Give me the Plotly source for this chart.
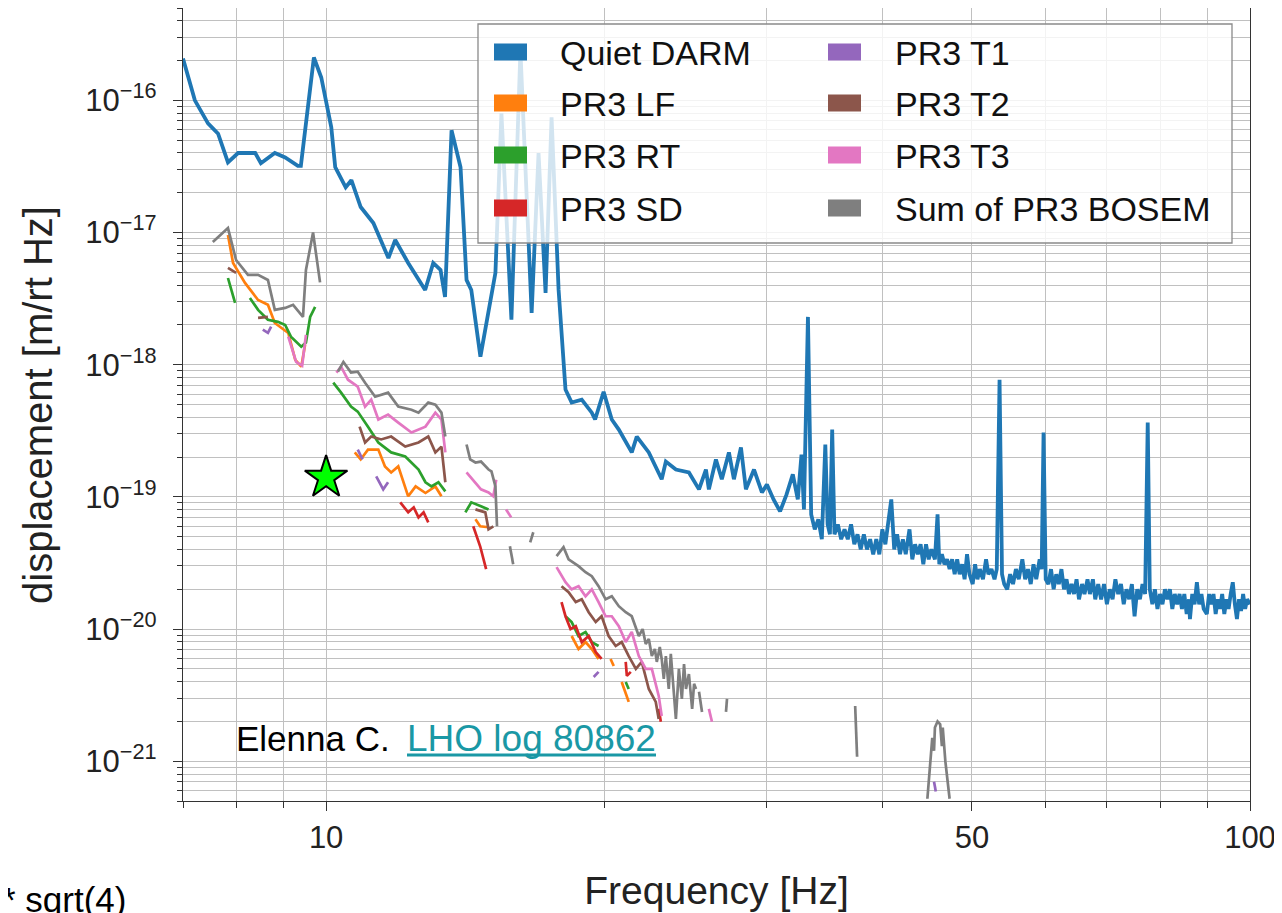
import plotly.graph_objects as go

# ---------------- data ----------------
darm_f = [7.0, 7.21, 7.45, 7.64, 7.83, 8.03, 8.38, 8.50, 8.80, 9.03, 9.32, 9.39, 9.70, 9.88,
          10.13, 10.23, 10.5, 10.65, 10.9, 11.25, 11.68, 11.88, 12.27, 12.80, 13.06, 13.30, 13.45,
          13.67, 13.98, 14.19, 14.36, 14.69, 15.25, 15.48, 15.87, 16.23, 16.69, 16.98, 17.28, 17.54,
          17.85, 18.16, 18.44, 18.91, 19.39, 19.55, 19.97, 20.38, 20.74, 21.42, 21.69, 22.35, 23.08,
          23.32, 23.91, 24.70, 25.33, 25.77, 25.96, 26.42, 26.81, 27.29, 27.63, 28.12, 28.47, 29.05,
          29.63,
          30.0, 30.5, 31.0, 31.5, 32.0, 32.4, 32.7, 32.9, 33.23,
          33.5, 33.8, 34.1, 34.4, 34.7, 34.9, 35.1, 35.3, 35.5, 35.8, 36.1, 36.4, 36.7, 37.0, 37.3,
          37.6, 37.9, 38.2, 38.5, 38.8, 39.1, 39.4, 39.7, 40.0, 40.3, 40.6, 40.9, 41.2, 41.5, 41.8,
          42.1, 42.4, 42.8, 43.1, 43.4, 43.7, 44.0, 44.3, 44.6, 44.9, 45.2, 45.6, 45.9, 46.1, 46.4,
          46.7, 47.0, 47.3, 47.6, 47.9, 48.2, 48.5, 48.8, 49.1, 49.4, 49.7, 50.1, 50.4, 50.7, 51.0,
          51.4, 51.8, 52.1, 52.5, 52.9, 53.2, 53.57, 53.9, 54.2, 54.6, 55.0, 55.4, 55.8, 56.2, 56.7,
          57.1, 57.5, 57.9, 58.3, 58.7, 59.2, 59.5, 59.78, 60.1, 60.5, 60.9, 61.3, 61.7, 62.1, 62.5,
          62.9, 63.3, 63.7, 64.1, 64.5, 64.9, 65.3, 65.8, 66.2, 66.7, 67.1, 67.6, 68.0, 68.5, 69.0,
          69.5, 70.0, 70.5, 71.0, 71.5, 72.0, 72.5, 73.0, 73.5, 74.0, 74.5, 75.0, 75.5, 76.0, 76.5,
          77.0, 77.5, 77.9, 78.4, 78.9, 79.4, 79.9, 80.4, 80.9, 81.4, 81.9, 82.4, 82.9, 83.4, 83.9,
          84.4, 84.9, 85.4, 85.9, 86.1, 86.6, 87.1, 87.6, 88.1, 88.6, 89.1, 89.8, 90.3, 90.8, 91.3,
          91.8, 92.3, 92.8, 93.3, 93.8, 94.3, 94.8, 95.3, 95.8, 96.3, 96.8, 97.3, 97.8, 98.3, 98.8,
          99.3, 100.0]
darm_v = [2.07e-16, 1.0e-16, 6.7e-17, 5.6e-17, 3.4e-17, 4.0e-17, 4.0e-17, 3.35e-17, 4.0e-17, 3.7e-17,
          3.2e-17, 3.2e-17, 2.11e-16, 1.49e-16,
          6.25e-17, 3.12e-17, 2.2e-17, 2.49e-17, 1.56e-17, 1.18e-17, 6.42e-18, 8.78e-18, 5.89e-18,
          3.68e-18, 5.89e-18, 5.21e-18, 3.26e-18,
          5.94e-17, 3.12e-17, 4.38e-18, 3.68e-18, 1.15e-18, 4.95e-18, 7.98e-17, 2.19e-18, 2.38e-16,
          2.47e-18, 4.0e-17, 3.49e-18, 7.44e-17,
          3.68e-18, 6.48e-19, 5.17e-19, 5.44e-19, 4.34e-19, 3.85e-19, 6.25e-19, 3.85e-19, 3.23e-19,
          2.17e-19, 2.86e-19, 2.17e-19, 1.36e-19,
          1.85e-19, 1.61e-19, 1.53e-19, 1.14e-19, 1.61e-19, 1.14e-19, 1.92e-19, 1.36e-19, 2.17e-19,
          1.36e-19, 2.37e-19, 1.14e-19, 1.61e-19,
          1.08e-19,
          1.24e-19, 9.57e-20, 7.77e-20, 1.04e-19, 1.48e-19, 9.57e-20, 2.09e-19, 8.04e-20, 2.30e-18,
          7.37e-20, 5.68e-20, 6.76e-20, 4.78e-20, 2.49e-19, 6.20e-20, 5.21e-20, 3.23e-19, 5.21e-20, 6.20e-20,
          4.78e-20, 5.68e-20, 4.78e-20, 6.20e-20, 4.38e-20,
          5.21e-20, 4.01e-20, 5.21e-20, 4.01e-20, 4.78e-20, 3.68e-20, 4.78e-20, 3.68e-20, 5.68e-20, 4.38e-20,
          6.20e-20, 9.57e-20, 4.01e-20, 5.21e-20, 3.68e-20,
          4.78e-20, 3.68e-20, 5.68e-20, 3.37e-20, 4.38e-20, 3.68e-20, 4.38e-20, 3.09e-20, 4.38e-20, 3.37e-20,
          4.01e-20, 3.37e-20, 7.37e-20, 3.09e-20, 3.68e-20,
          3.09e-20, 3.37e-20, 2.84e-20, 3.37e-20, 2.60e-20, 3.37e-20, 2.60e-20, 3.09e-20, 2.38e-20, 3.68e-20,
          2.60e-20, 2.19e-20, 3.09e-20, 2.38e-20, 2.84e-20,
          2.38e-20, 3.37e-20, 2.60e-20, 2.84e-20, 2.38e-20, 2.84e-20, 7.70e-19, 2.60e-20, 2.19e-20, 2.00e-20,
          2.60e-20, 2.19e-20, 2.84e-20, 2.38e-20, 3.37e-20,
          2.38e-20, 2.84e-20, 2.19e-20, 3.09e-20, 2.38e-20, 3.37e-20, 2.84e-20, 3.07e-19, 2.38e-20, 2.19e-20,
          2.84e-20, 2.00e-20, 2.60e-20, 2.19e-20, 2.84e-20,
          2.00e-20, 2.38e-20, 1.84e-20, 2.19e-20, 1.84e-20, 2.38e-20, 1.68e-20, 2.19e-20, 1.84e-20, 2.38e-20,
          1.84e-20, 2.38e-20, 1.68e-20, 2.19e-20, 1.68e-20,
          2.19e-20, 1.54e-20, 2.00e-20, 1.68e-20, 2.38e-20, 1.84e-20, 2.19e-20, 1.54e-20, 2.00e-20, 1.68e-20,
          2.19e-20, 1.25e-20, 2.00e-20, 1.68e-20, 2.19e-20,
          1.84e-20, 3.65e-19, 2.00e-20, 1.54e-20, 2.00e-20, 1.42e-20, 1.84e-20, 1.54e-20, 2.00e-20, 1.68e-20,
          2.00e-20, 1.42e-20, 1.84e-20, 1.54e-20, 1.84e-20,
          1.42e-20, 1.84e-20, 1.30e-20, 1.68e-20, 1.19e-20, 1.84e-20, 1.54e-20, 2.26e-20, 1.54e-20, 1.84e-20,
          1.42e-20, 1.30e-20, 1.84e-20, 1.54e-20, 1.84e-20,
          1.30e-20, 1.68e-20, 1.42e-20, 1.84e-20, 1.30e-20, 1.68e-20, 1.42e-20, 1.84e-20, 2.26e-20, 1.54e-20,
          1.19e-20, 1.68e-20, 1.37e-20, 1.84e-20, 1.42e-20,
          1.68e-20, 1.54e-20]

lf_f = [7.83, 7.93, 8.17, 8.44, 8.65, 8.80, 9.10, 9.26, 9.40, 9.49, None,
        10.74, 10.90, 11.10, 11.39, 11.58, 11.76, 11.97, 12.27, 12.50, 12.81, 13.13, 13.33, None,
        14.51, 14.68, 14.99, None,
        18.44, 18.76, 19.09, 19.39, 19.72, None, 20.32, 20.48, None, 20.89, 21.26, None, 22.91, 23.03]
lf_v = [9.57e-18, 5.89e-18, 4.16e-18, 3.09e-18, 2.84e-18, 2.07e-18, 1.74e-18, 1.09e-18, 9.66e-19, 1.42e-18, None,
        2.17e-19, 1.92e-19, 2.28e-19, 2.28e-19, 1.70e-19, 1.53e-19, 1.70e-19, 1.01e-19, 1.20e-19, 1.07e-19,
        1.20e-19, 1.01e-19, None,
        6.76e-20, 5.99e-20, 5.89e-20, None,
        8.86e-21, 7.06e-21, 7.97e-21, 7.06e-21, 5.94e-21, None, 5.94e-21, 5.26e-21, None, 3.98e-21, 2.81e-21,
        None, 2.49e-21, 2.20e-21]

rt_f = [7.83, 7.97, None, 8.27, 8.44, 8.65, 8.87, 9.03, 9.16, 9.40, 9.51, 9.61, 9.73, None,
        10.18, 10.38, 10.64, 10.82, 11.10, 11.39, 11.76, 12.18, 12.59, 12.81, 13.0, 13.23, 13.46, None,
        14.15, 14.36, 14.71, 14.99, None,
        18.16, 18.44, 18.76, 19.09, 19.39, 19.72, None, 21.10, 21.26]
rt_v = [4.53e-18, 2.94e-18, None, 3.20e-18, 2.60e-18, 2.19e-18, 2.11e-18, 2.0e-18, 1.63e-18, 1.37e-18,
        1.47e-18, 2.30e-18, 2.74e-18, None,
        7.31e-19, 6.15e-19, 4.82e-19, 4.42e-19, 3.40e-19, 2.58e-19, 2.17e-19, 2.02e-19, 1.61e-19, 1.29e-19,
        1.20e-19, 1.29e-19, 1.10e-19, None,
        7.64e-20, 9.09e-20, 8.48e-20, 8.04e-20, None,
        1.25e-20, 1.13e-20, 8.86e-21, 9.50e-21, 7.97e-21, 7.44e-21, None, 3.98e-21, 3.52e-21]

sd_f = [12.03, 12.27, 12.44, 12.59, 12.75, 12.90, None,
        14.43, 14.68, 14.90, None,
        17.98, 18.16, 18.39, 18.63, 18.91, 19.24, 19.58, 19.87, None,
        21.10, 21.16, 21.37, None, 22.91, 23.03]
sd_v = [9.09e-20, 7.64e-20, 8.33e-20, 7.0e-20, 7.64e-20, 6.42e-20, None,
        5.99e-20, 4.23e-20, 2.84e-20, None,
        1.60e-20, 1.25e-20, 1.0e-20, 1.05e-20, 7.97e-21, 8.86e-21, 6.70e-21, 5.94e-21, None,
        5.64e-21, 4.42e-21, 4.74e-21, None, 2.49e-21, 1.99e-21]

t1_f = [8.54, 8.65, 8.72, None, 10.82, 10.95, None, 11.33, 11.53, 11.67, None, 19.48, 19.72, None, 45.5, 45.7]
t1_v = [1.84e-18, 1.74e-18, 1.94e-18, None, 2.28e-19, 1.92e-19, None, 1.43e-19, 1.14e-19, 1.29e-19, None,
        4.34e-21, 4.74e-21, None, 7.0e-22, 5.89e-22]

t2_f = [7.83, 7.99, None, 8.44, 8.65, None,
        10.87, 11.02, 11.19, 11.47, 11.76, 12.18, 12.59, 12.90, 13.13, 13.33, 13.46, None,
        14.51, 14.87, 14.99, 15.17, None,
        17.98, 18.30, 18.63, 18.91, 19.24, 19.58, 19.87, 20.22, 20.58, 20.89, 21.26, 21.64, 21.96,
        22.35, 22.74, 22.91]
t2_v = [5.40e-18, 4.95e-18, None, 2.26e-18, 2.30e-18, None,
        3.40e-19, 2.58e-19, 2.86e-19, 2.72e-19, 2.86e-19, 2.40e-19, 2.58e-19, 2.86e-19, 2.17e-19, 2.40e-19,
        1.29e-19, None,
        8.04e-20, 7.64e-20, 5.68e-20, 5.99e-20, None,
        2.11e-20, 1.90e-20, 1.60e-20, 1.68e-20, 1.34e-20, 1.13e-20, 1.25e-20, 8.86e-21, 7.44e-21, 7.97e-21,
        6.25e-21, 4.99e-21, 5.64e-21, 3.52e-21, 2.81e-21, 2.09e-21]

t3_f = [9.10, 9.28, 9.42, 9.51, None,
        10.26, 10.38, 10.56, 10.82, 11.02, 11.19, 11.39, 11.67, 11.97, 12.37, 12.81, 13.13, 13.33, 13.46, None,
        14.19, 14.51, 14.71, 14.99, 15.17, 15.28, None,
        15.66, 15.86, None,
        17.76, 18.16, 18.44, 18.76, 19.09, 19.39, 19.72, 20.07, 20.38, 20.74, 21.10, 21.42, 21.80, 22.18,
        22.52, 22.91, 23.08, None, 25.96, 26.16]
t3_v = [1.63e-18, 1.05e-18, 9.83e-19, 1.68e-18, None,
        8.71e-19, 9.66e-19, 7.70e-19, 6.82e-19, 4.82e-19, 5.44e-19, 3.85e-19, 4.19e-19, 3.65e-19, 3.07e-19,
        3.40e-19, 4.34e-19, 3.85e-19, 2.17e-19, None,
        1.53e-19, 1.29e-19, 1.14e-19, 1.08e-19, 1.01e-19, 1.35e-19, None,
        8.04e-20, 7.0e-20, None,
        2.94e-20, 2.26e-20, 2.0e-20, 2.11e-20, 1.77e-20, 2.0e-20, 1.60e-20, 1.25e-20, 1.25e-20, 1.05e-20,
        7.97e-21, 9.50e-21, 6.25e-21, 4.99e-21, 4.99e-21, 3.12e-21, 2.20e-21, None, 2.49e-21, 1.99e-21]

sum_f = [7.54, 7.83, 7.99, 8.23, 8.44, 8.65, 8.80, 9.03, 9.21, 9.44, 9.51, 9.68, 9.85, None,
         10.30, 10.44, 10.64, 10.82, 11.02, 11.30, 11.67, 11.97, 12.37, 12.59, 12.90, 13.13, 13.33, 13.46, None,
         14.19, 14.32, 14.51, 14.71, 14.99, 15.10, 15.25, 15.28, 15.31, None,
         15.81, 15.94, None, 16.63, 16.76, None,
         17.76, 18.07, 18.30, 18.76, 19.09, 19.39, 19.72, 20.07, 20.38, 20.74, 21.10, 21.42, 21.80, 22.01,
         22.18, 22.35, 22.52, 22.69, 22.80, 22.97, 23.08, 23.20, 23.32, 23.49, 23.61, 23.79, 23.91, 24.09,
         24.27, 24.40, 24.52, 24.70, 24.90, 25.02, 25.14, None,
         25.33, 25.52, None, 27.09, 27.16, None, 37.38, 37.56, None,
         44.75, 45.1, 45.3, 45.5, 45.6, 45.9, 46.2, 46.4, 46.5, 46.8, 47.3]
sum_v = [8.47e-18, 1.08e-17, 6.2e-18, 4.78e-18, 4.78e-18, 4.38e-18, 2.60e-18, 2.69e-18, 2.84e-18, 2.30e-18,
         5.21e-18, 1.0e-17, 4.2e-18, None,
         8.86e-19, 1.05e-18, 8.71e-19, 8.86e-19, 7.31e-19, 5.73e-19, 6.15e-19, 4.82e-19, 4.57e-19, 4.34e-19,
         5.17e-19, 4.99e-19, 4.34e-19, 2.86e-19, None,
         2.49e-19, 1.92e-19, 1.82e-19, 1.85e-19, 1.61e-19, 1.56e-19, 1.20e-19, 8.04e-20, 5.99e-20, None,
         4.23e-20, 3.09e-20, None, 4.53e-20, 5.40e-20, None,
         3.56e-20, 4.16e-20, 3.37e-20, 2.99e-20, 2.69e-20, 2.51e-20, 2.11e-20, 1.68e-20, 1.77e-20, 1.49e-20,
         1.34e-20, 1.25e-20, 8.86e-21, 1.0e-20,
         7.70e-21, 8.41e-21, 6.25e-21, 7.06e-21, 5.64e-21, 7.31e-21, 5.94e-21, 4.19e-21, 6.25e-21, 3.52e-21,
         6.48e-21, 2.96e-21, 2.09e-21, 4.99e-21,
         2.96e-21, 5.43e-21, 3.52e-21, 4.57e-21, 2.49e-21, 3.85e-21, 3.52e-21, None,
         3.35e-21, 2.36e-21, None, 2.36e-21, 2.96e-21, None, 2.62e-21, 1.08e-21, None,
         5.2e-22, 1.0e-21, 1.5e-21, 1.2e-21, 1.8e-21, 2.0e-21, 1.9e-21, 1.3e-21, 1.8e-21, 1.0e-21, 5.2e-22]

star_f = [10.0]
star_v = [1.40e-19]

series_names = ["Quiet DARM", "PR3 LF", "PR3 RT", "PR3 SD", "PR3 T1", "PR3 T2", "PR3 T3", "Sum of PR3 BOSEM"]
series_colors = ["#1f77b4", "#ff7f0e", "#2ca02c", "#d62728", "#9467bd", "#8c564b", "#e377c2", "#7f7f7f"]

x_tickvals = [10, 50, 100]
x_ticktext = ["10", "50", "100"]
x_minorvals = [7, 8, 9, 20, 30, 40, 60, 70, 80, 90]
y_tickvals = [1e-21, 1e-20, 1e-19, 1e-18, 1e-17, 1e-16]
y_ticktext = ["10<sup>\u221221</sup>", "10<sup>\u221220</sup>", "10<sup>\u221219</sup>",
              "10<sup>\u221218</sup>", "10<sup>\u221217</sup>", "10<sup>\u221216</sup>"]

# ---------------- figure ----------------
FONT = "Liberation Sans, Arial, sans-serif"
OFF = 8                      # page body margin of the html page
W, H = 1274, 905
ML, MR, MT, MB = 175, 32, 0, 112
PW, PH = W - ML - MR, H - MT - MB


def px(xp):
    return (xp - OFF - ML) / PW


def py(yp):
    return (OFF + H - MB - yp) / PH


fig = go.Figure()
xs = [darm_f, lf_f, rt_f, sd_f, t1_f, t2_f, t3_f, sum_f]
ys = [darm_v, lf_v, rt_v, sd_v, t1_v, t2_v, t3_v, sum_v]
for i, (xv, yv) in enumerate(zip(xs, ys)):
    fig.add_trace(go.Scatter(x=xv, y=yv, mode="lines", name=series_names[i],
                             line=dict(color=series_colors[i], width=3.8 if i == 0 else 2.7),
                             connectgaps=False, showlegend=False))

fig.add_trace(go.Scatter(x=star_f, y=star_v, mode="markers", showlegend=False,
                         marker=dict(symbol="star", size=32, color="#00ff00",
                                     line=dict(color="black", width=2))))

y_minorvals = [m * d for d in [1e-22, 1e-21, 1e-20, 1e-19, 1e-18, 1e-17, 1e-16] for m in range(2, 10)]

grid = "#c0c0c0"
fig.update_xaxes(type="log", range=[0.8451, 2.0], tickmode="array", tickvals=x_tickvals, ticktext=x_ticktext,
                 ticks="outside", ticklen=9, tickwidth=1.2, tickcolor="#333",
                 showgrid=True, gridcolor=grid, gridwidth=1,
                 minor=dict(tickmode="array", tickvals=x_minorvals, ticks="outside", ticklen=6, tickwidth=1,
                            tickcolor="#333", showgrid=True, gridcolor=grid, gridwidth=1),
                 showline=True, linecolor="#333", linewidth=1.3, mirror=True,
                 tickfont=dict(family=FONT, size=31, color="#222"),
                 title=dict(text="Frequency [Hz]", font=dict(family=FONT, size=39, color="#222"), standoff=22),
                 zeroline=False)
fig.update_yaxes(type="log", range=[-21.301, -15.301], tickmode="array", tickvals=y_tickvals, ticktext=y_ticktext,
                 ticks="outside", ticklen=9, tickwidth=1.2, tickcolor="#333",
                 showgrid=True, gridcolor=grid, gridwidth=1,
                 minor=dict(tickmode="array", tickvals=y_minorvals, ticks="outside", ticklen=5, tickwidth=1,
                            tickcolor="#333", showgrid=True, gridcolor=grid, gridwidth=1),
                 showline=True, linecolor="#333", linewidth=1.3, mirror=True, ticklabelstandoff=10,
                 tickfont=dict(family=FONT, size=31, color="#222"),
                 zeroline=False)

shapes = []
annotations = []
# y-axis title
annotations.append(dict(xref="paper", yref="paper", x=px(38), y=py(405), text="displacement [m/rt Hz]",
                        textangle=-90, showarrow=False, xanchor="center", yanchor="middle",
                        font=dict(family=FONT, size=40, color="#222")))
# legend box
shapes.append(dict(type="rect", xref="paper", yref="paper", x0=px(478), x1=px(1232), y0=py(243), y1=py(24),
                   line=dict(color="#8a8a8a", width=1.3), fillcolor="rgba(255,255,255,0.8)", layer="above"))
row_y = [52, 103, 155, 208]
for i, name in enumerate(series_names):
    col, row = divmod(i, 4)
    x0 = 494 if col == 0 else 828
    tx = 558 if col == 0 else 893
    yc = row_y[row]
    shapes.append(dict(type="rect", xref="paper", yref="paper", x0=px(x0), x1=px(x0 + 33),
                       y0=py(yc + 8.5), y1=py(yc - 8.5), line=dict(width=0),
                       fillcolor=series_colors[i], layer="above"))
    annotations.append(dict(xref="paper", yref="paper", x=px(tx), y=py(yc + 1), text=name, showarrow=False,
                            xanchor="left", yanchor="middle", font=dict(family=FONT, size=34, color="#111")))

link_color = "#1a98a5"
annotations.append(dict(xref="paper", yref="paper", x=px(234), y=py(738), text="Elenna C.",
                        showarrow=False, xanchor="left", yanchor="middle",
                        font=dict(family=FONT, size=35, color="#000")))
annotations.append(dict(xref="paper", yref="paper", x=px(405), y=py(738), text="LHO log 80862",
                        showarrow=False, xanchor="left", yanchor="middle",
                        font=dict(family=FONT, size=37, color=link_color)))
shapes.append(dict(type="line", xref="paper", yref="paper", x0=px(407), x1=px(656), y0=py(755), y1=py(755),
                   line=dict(color=link_color, width=3), layer="above"))
annotations.append(dict(xref="paper", yref="paper", x=px(128), y=py(899), text="* sqrt(4)", showarrow=False,
                        xanchor="right", yanchor="middle", font=dict(family=FONT, size=35, color="#000")))

fig.update_layout(width=W, height=H, margin=dict(l=ML, r=MR, t=MT, b=MB, autoexpand=False),
                  paper_bgcolor="white", plot_bgcolor="white", shapes=shapes, annotations=annotations,
                  showlegend=False, font=dict(family=FONT))

fig.write_html("out.html")
